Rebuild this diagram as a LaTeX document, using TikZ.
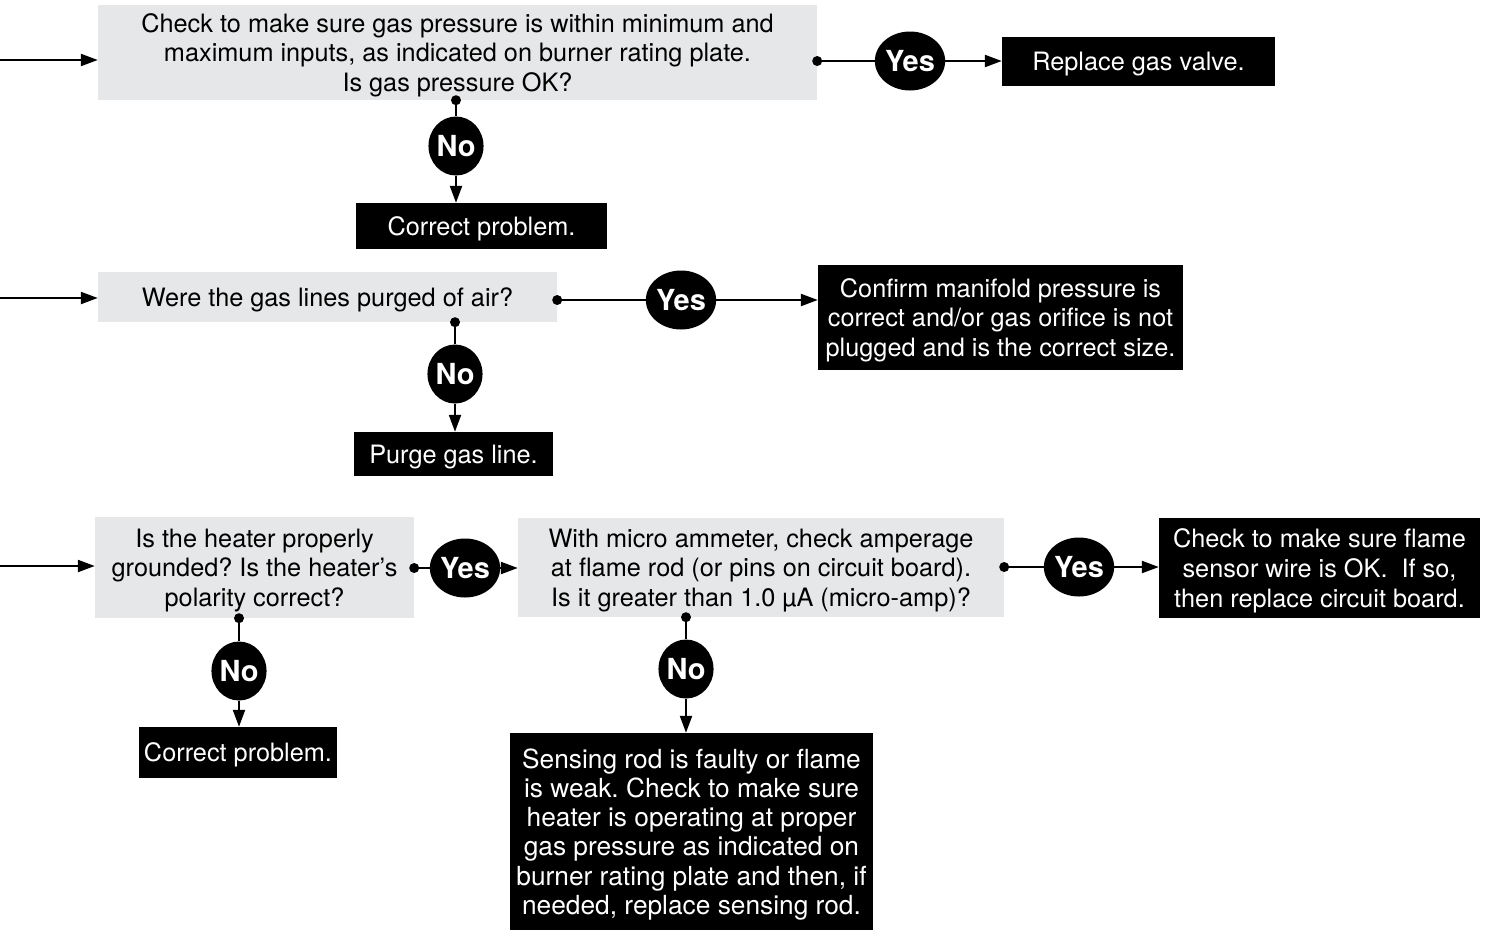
\documentclass[tikz,border=0pt]{standalone}
\usepackage{fontspec}
\setmainfont{TeX Gyre Heros}
\usetikzlibrary{arrows.meta,shapes.geometric}
\definecolor{boxgray}{HTML}{E6E7E8}
\frenchspacing
\tikzset{
  txt/.style={font=\fontsize{25.3}{29.6}\selectfont, text depth=0pt},
  qbox/.style={txt, fill=boxgray, inner sep=0pt, align=center},
  abox/.style={txt, fill=black, text=white, inner sep=0pt, align=center},
  yn/.style={ellipse, fill=black, text=white, inner sep=0pt, minimum width=55pt, minimum height=59pt, font=\bfseries\fontsize{29}{29}\selectfont},
  conn/.style={line width=2.2pt},
  arr/.style={conn, -{Triangle[length=17pt,width=12pt]}},
  dot/.style={circle, fill=black, inner sep=0pt, minimum size=10pt},
}
\begin{document}
\begin{tikzpicture}[x=1pt,y=-1pt]
\useasboundingbox (0,0) rectangle (1489,930);

% Row 1
\node[qbox, minimum width=719pt, minimum height=95pt] (b1) at (457.5,52.5)
  {Check to make sure gas pressure is within minimum and\\maximum inputs, as indicated on burner rating plate.\\Is gas pressure OK?};
\node[abox, minimum width=273pt, minimum height=49pt] (r1) at (1138.5,61.5) {Replace gas valve.};
\node[abox, minimum width=251pt, minimum height=46pt] (c1) at (481.5,226) {Correct problem.};
\node[yn] (y1) at (910,61) {Yes};
\node[yn] (n1) at (456,146) {No};
\coordinate (in1) at (0,60);
\node[dot] (dy1) at (b1.east |- y1) {};
\node[dot] (dn1) at (b1.south -| n1) {};
\draw[arr] (in1) -- (in1 -| b1.west);
\draw[conn] (dy1.center) -- (y1.west);
\draw[arr] (y1.east) -- (y1.east -| r1.west);
\draw[conn] (dn1.center) -- (n1.north);
\draw[arr] (n1.south) -- (n1.south |- c1.north);

% Row 2
\node[qbox, minimum width=459pt, minimum height=50pt] (b2) at (327.5,297) {Were the gas lines purged of air?};
\node[abox, minimum width=365pt, minimum height=105pt] (r2) at (1000.5,317.5)
  {Confirm manifold pressure is\\correct and/or gas orifice is not\\plugged and is the correct size.};
\node[abox, minimum width=199pt, minimum height=44pt] (c2) at (453.5,454) {Purge gas line.};
\node[yn] (y2) at (681,300) {Yes};
\node[yn] (n2) at (455,374) {No};
\coordinate (in2) at (0,298);
\node[dot] (dy2) at (b2.east |- y2) {};
\node[dot] (dn2) at (b2.south -| n2) {};
\draw[arr] (in2) -- (in2 -| b2.west);
\draw[conn] (dy2.center) -- (y2.west);
\draw[arr] (y2.east) -- (y2.east -| r2.west);
\draw[conn] (dn2.center) -- (n2.north);
\draw[arr] (n2.south) -- (n2.south |- c2.north);

% Row 3
\node[qbox, minimum width=319pt, minimum height=101pt] (b3) at (254.5,567.5)
  {Is the heater properly\\grounded? Is the heater’s\\polarity correct?};
\node[qbox, minimum width=486pt, minimum height=99pt] (b4) at (761,567.5)
  {With micro ammeter, check amperage\\at flame rod (or pins on circuit board).\\Is it greater than 1.0 µA (micro-amp)?};
\node[abox, minimum width=321pt, minimum height=100pt] (r4) at (1319.5,568)
  {Check to make sure flame\\sensor wire is OK.\ \ If so,\\then replace circuit board.};
\node[abox, minimum width=198pt, minimum height=51pt] (c3) at (238,752.5) {Correct problem.};
\node[abox, minimum width=363pt, minimum height=197pt, font=\fontsize{26.3}{29.3}\selectfont] (c4) at (691.5,831.5)
  {Sensing rod is faulty or flame\\is weak. Check to make sure\\heater is operating at proper\\gas pressure as indicated on\\burner rating plate and then, if\\needed, replace sensing rod.};
\node[yn] (y3) at (465,568) {Yes};
\node[yn] (n3) at (239,671) {No};
\node[yn] (y4) at (1079,567) {Yes};
\node[yn] (n4) at (686,669) {No};
\coordinate (in3) at (0,566);
\node[dot] (dy3) at (b3.east |- y3) {};
\node[dot] (dn3) at (b3.south -| n3) {};
\node[dot] (dy4) at (b4.east |- y4) {};
\node[dot] (dn4) at (b4.south -| n4) {};
\draw[arr] (in3) -- (in3 -| b3.west);
\draw[conn] (dy3.center) -- (y3.west);
\draw[arr] (y3.east) -- (y3.east -| b4.west);
\draw[conn] (dn3.center) -- (n3.north);
\draw[arr] (n3.south) -- (n3.south |- c3.north);
\draw[conn] (dy4.center) -- (y4.west);
\draw[arr] (y4.east) -- (y4.east -| r4.west);
\draw[conn] (dn4.center) -- (n4.north);
\draw[arr] (n4.south) -- (n4.south |- c4.north);
\end{tikzpicture}
\end{document}
